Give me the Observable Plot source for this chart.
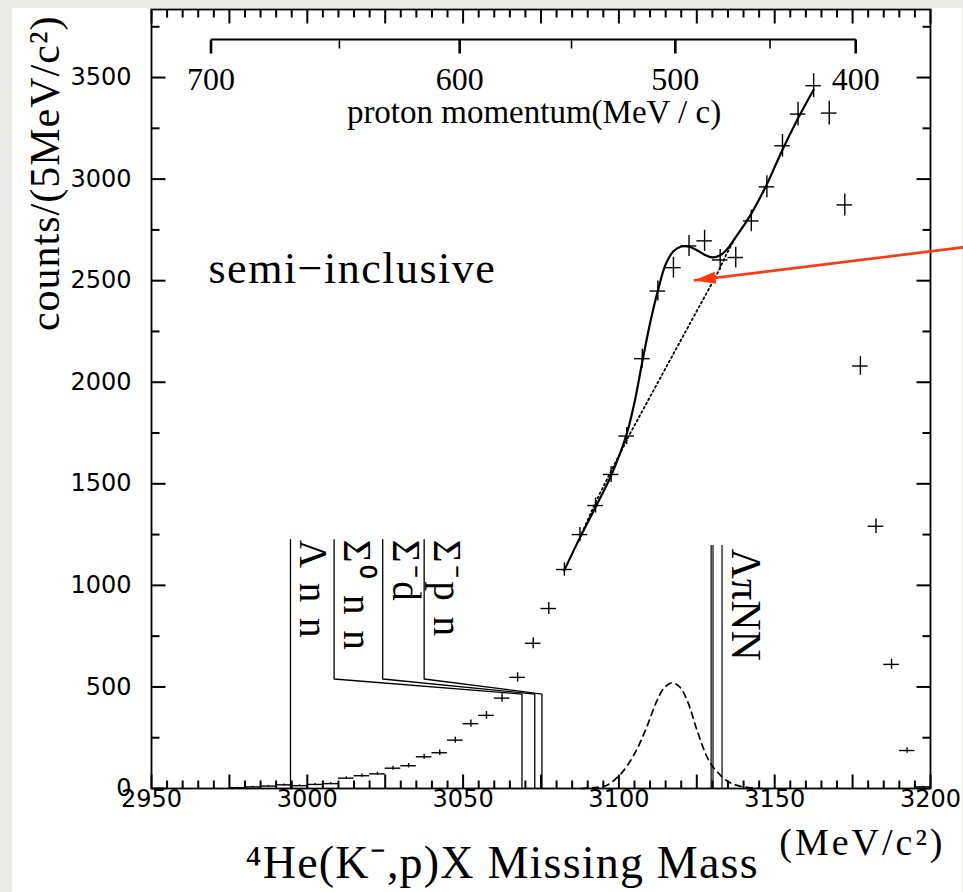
<!DOCTYPE html>
<html><head><meta charset="utf-8">
<script src="https://cdn.jsdelivr.net/npm/d3@7"></script>
<script src="https://cdn.jsdelivr.net/npm/@observablehq/plot@0.6"></script>
<style>
html,body{margin:0;padding:0;background:#e9e9e7;}
#panel{position:absolute;left:12px;top:8px;width:950px;height:884px;background:#fff;}
#chart{position:absolute;left:0;top:0;}
</style></head><body><div id="panel"></div><div id="chart"></div>
<script>
// ---- data ----
const massBins = [2977.5,2982.5,2987.5,2992.5,2997.5,3002.5,3007.5,3012.5,3017.5,3022.5,3027.5,3032.5,3037.5,3042.5,3047.5,3052.5,3057.5,3062.5,3067.5,3072.5,3077.5,3082.5,3087.5,3092.5,3097.5,3102.5,3107.5,3112.5,3117.5,3122.5,3127.5,3132.5,3137.5,3142.5,3147.5,3152.5,3157.5,3162.5,3167.5,3172.5,3177.5,3182.5,3187.5,3192.5,3197.5];
const counts = [4,8,12,18,14,20,24,51,63,72,100,112,156,176,238,319,360,445,547,715,886,1078,1250,1393,1546,1735,2116,2449,2564,2671,2696,2602,2614,2794,2962,3164,3320,3460,3325,2873,2080,1291,611,187,8];
const errors = [2,3,3,4,4,4,5,7,8,8,10,11,12,13,15,18,19,21,23,27,30,33,35,37,39,42,46,49,51,52,52,51,51,53,54,56,58,59,58,54,46,36,25,14,3];

const fitMass = [3082.5,3087.5,3092.5,3097.5,3102.5,3105,3107.5,3110,3112.5,3115,3117.5,3120,3122.5,3125,3127.5,3130,3132.5,3135,3137.5,3140,3142.5,3147.5,3152.5,3157.5,3162.5];
const fitCount = [1075,1235,1385,1540,1745,1900,2100,2290,2450,2580,2645,2668,2668,2650,2628,2615,2625,2660,2715,2770,2830,2975,3145,3300,3440];

const bgMass = [3087.5,3093,3103.5,3117.5,3131.5,3134.5,3137.5];
const bgCount = [1235,1425,1745,2140,2533,2630,2715];

const peakMass = [3088,3092,3096,3100,3103,3106,3109,3112,3114.5,3117,3119.5,3122,3125,3128,3130,3132,3134,3137,3141,3146];
const peakCount = [0,4,15,62,120,200,305,425,495,520,500,430,290,165,110,75,45,20,6,0];

const sigmaLabels = ["Σ⁰ n n","Σ⁻d","Σ⁻p n"];
const sigmaLabelMass = [3008.6,3024.2,3037.5];
const sigmaThresholdMass = [3068.9,3073.0,3075.3];
const lambdaNNLabel = "Λ n n";
const lambdaNNMass = 2994.6;
const lambdaPiNNLabel = "ΛπNN";
const lambdaPiNNMass = [3129.6,3130.2,3133.1];

const momLabels = [700,650,600,550,500,450,400];
const momMass = [2969.1,3010.3,3048.9,3084.8,3118.1,3148.5,3176.0];

const xTickLabels = [2950,3000,3050,3100,3150,3200];
const yTickLabels = [0,500,1000,1500,2000,2500,3000,3500];

const arrowFrom = {m:3211, c:2665};
const arrowTo = {m:3124, c:2501};

// ---- layout constants ----
const W = 963, H = 892, mL = 151, mR = 33, mT = 9, mB = 104;
const xMin = 2950, xMax = 3200, yMax = 3835;
const pxY = yMax / (H - mT - mB);        // counts per pixel
const pxX = (xMax - xMin) / (W - mL - mR); // MeV per pixel
const labelTop = 1225, kneeLevel = 539, joinLevel = 465, lpnTop = 1196;
const red = "#ff3814";
const serif = "Liberation Serif, Times New Roman, serif";
const sans = "DejaVu Sans, sans-serif";

const pts = massBins.map((m,i)=>({m, c:counts[i], e:errors[i]}));
const halfBin = 2.5;
const fit = fitMass.map((m,i)=>({m, c:fitCount[i]}));
const bg = bgMass.map((m,i)=>({m, c:bgCount[i]}));
const peak = peakMass.map((m,i)=>({m, c:peakCount[i]}));
const sigmaPaths = [];
sigmaLabels.forEach((l,k)=>{
  sigmaPaths.push({k, m:sigmaLabelMass[k], c:labelTop},{k, m:sigmaLabelMass[k], c:kneeLevel},
                  {k, m:sigmaThresholdMass[k], c:joinLevel},{k, m:sigmaThresholdMass[k], c:0});
});
const thrLabels = [{label:lambdaNNLabel, m:lambdaNNMass}].concat(
  sigmaLabels.map((l,k)=>({label:l, m:sigmaLabelMass[k]})));
const mom = momLabels.map((p,i)=>({p, m:momMass[i]}));
const momMajor = mom.filter(d=>d.p%100===0);

// tick segments (inward) on the four sides
const ticks = [];
for (let v = xMin; v <= xMax; v += 5) {
  const len = (v - xMin) % 25 === 0 ? 14 : 8;
  ticks.push({x1:v, x2:v, y1:0, y2:len*pxY});
  ticks.push({x1:v, x2:v, y1:yMax, y2:yMax-len*pxY});
}
for (let v = 0; v <= 3750; v += 250) {
  const len = v % 500 === 0 ? 14 : 8;
  ticks.push({x1:xMin, x2:xMin+len*pxX, y1:v, y2:v});
  ticks.push({x1:xMax, x2:xMax-len*pxX, y1:v, y2:v});
}
const momY = yMax - 30*pxY;
const momTicks = mom.map(d=>({x1:d.m, x2:d.m, y1:momY, y2:momY-(d.p%100===0?14:9)*pxY, w:d.p%100===0?2.6:1.6}));

const plot = Plot.plot({
  width:W, height:H,
  marginLeft:mL, marginRight:mR, marginTop:mT, marginBottom:mB,
  style:{background:"transparent", overflow:"visible"},
  x:{domain:[xMin,xMax], axis:null},
  y:{domain:[0,yMax], axis:null},
  marks:[
    Plot.link(ticks, {x1:"x1", x2:"x2", y1:"y1", y2:"y2", stroke:"#000", strokeWidth:2, strokeLinecap:"butt"}),
    Plot.frame({stroke:"#000", strokeWidth:1.8}),
    // tick labels
    Plot.text(xTickLabels, {x:d=>d, text:d=>String(d), frameAnchor:"bottom", dy:18, fontFamily:sans, fontSize:24, fill:"#000"}),
    Plot.text(yTickLabels, {y:d=>d, text:d=>String(d), frameAnchor:"left", dx:-20, textAnchor:"end", fontFamily:sans, fontSize:24, fill:"#000"}),
    // proton momentum axis
    Plot.link([{x1:momMass[0], x2:momMass[momMass.length-1], y1:momY, y2:momY}], {x1:"x1", x2:"x2", y1:"y1", y2:"y2", stroke:"#000", strokeWidth:2.2}),
    Plot.link(momTicks, {x1:"x1", x2:"x2", y1:"y1", y2:"y2", strokeWidth:"w", stroke:"#000"}),
    Plot.text(momMajor, {x:"m", text:d=>String(d.p), frameAnchor:"top", dy:80, lineAnchor:"bottom", fontFamily:serif, fontSize:32, fill:"#000"}),
    Plot.text(["proton momentum(MeV / c)"], {text:d=>d, frameAnchor:"top", dx:-7, dy:113, lineAnchor:"bottom", fontFamily:serif, fontSize:33, fill:"#000"}),
    // thresholds
    Plot.ruleX([lambdaNNMass], {x:d=>d, y1:0, y2:labelTop, stroke:"#000", strokeWidth:1.3}),
    Plot.line(sigmaPaths, {x:"m", y:"c", z:"k", stroke:"#000", strokeWidth:1.3}),
    Plot.ruleX(lambdaPiNNMass, {x:d=>d, y1:0, y2:lpnTop, stroke:"#000", strokeWidth:1.2}),
    Plot.text(thrLabels, {x:"m", y:labelTop, text:"label", dx:10, rotate:90, textAnchor:"start", lineAnchor:"bottom", fontFamily:serif, fontSize:39, fill:"#000"}),
    Plot.text([lambdaPiNNLabel], {x:lambdaPiNNMass[2], y:lpnTop, text:d=>d, dx:10, dy:3, rotate:90, textAnchor:"start", lineAnchor:"bottom", fontFamily:serif, fontSize:42, fill:"#000"}),
    // curves
    Plot.line(peak, {x:"m", y:"c", curve:"catmull-rom", stroke:"#000", strokeWidth:1.7, strokeDasharray:"6,5"}),
    Plot.line(bg, {x:"m", y:"c", curve:"linear", stroke:"#000", strokeWidth:1.8, strokeDasharray:"1.8,3"}),
    Plot.line(fit, {x:"m", y:"c", curve:"catmull-rom", stroke:"#000", strokeWidth:2.2}),
    // data crosses
    Plot.ruleY(pts, {y:"c", x1:d=>d.m-halfBin, x2:d=>d.m+halfBin, stroke:"#000", strokeWidth:1.4}),
    Plot.ruleX(pts, {x:"m", y1:d=>d.c-d.e, y2:d=>d.c+d.e, stroke:"#000", strokeWidth:1.4}),
    // annotation
    Plot.text(["semi−inclusive"], {text:d=>d, frameAnchor:"top-left", dx:57, dy:273, textAnchor:"start", lineAnchor:"bottom", fontFamily:serif, fontSize:44, fill:"#000"}),
    Plot.link([{a:arrowFrom, b:arrowTo}], {x1:d=>d.a.m, y1:d=>d.a.c, x2:d=>d.b.m, y2:d=>d.b.c, stroke:red, strokeWidth:2.6}),
    Plot.vector([arrowTo], {x:"m", y:"c", rotate:263, length:22, r:6, shape:"spike", anchor:"end", fill:red, stroke:"none"}),
    // axis titles
    Plot.text(["counts/(5MeV/c²)"], {text:d=>d, frameAnchor:"top-left", rotate:-90, dx:-93, dy:6, textAnchor:"end", lineAnchor:"bottom", fontFamily:serif, fontSize:42, fill:"#000"}),
    Plot.text(["⁴He(K⁻,p)X Missing Mass"], {text:d=>d, frameAnchor:"bottom-left", dx:94, dy:89, textAnchor:"start", lineAnchor:"bottom", fontFamily:serif, fontSize:46, fill:"#000"}),
    Plot.text(["(MeV/c²)"], {text:d=>d, frameAnchor:"bottom-right", dx:15, dy:66, textAnchor:"end", lineAnchor:"bottom", fontFamily:serif, fontSize:38, fill:"#000"})
  ]
});
document.getElementById("chart").appendChild(plot);

// letter spacing tweaks
const spacing = {"semi−inclusive":1.5, "counts/(5MeV/c²)":1, "(MeV/c²)":3, "⁴He(K⁻,p)X Missing Mass":1.2,
                 "Λ n n":3, "Σ⁰ n n":3, "Σ⁻d":3, "Σ⁻p n":3};
d3.select(plot).selectAll("text").each(function(){
  const s = spacing[this.textContent];
  if (s !== undefined) this.setAttribute("letter-spacing", s);
});
</script>
</body></html>
